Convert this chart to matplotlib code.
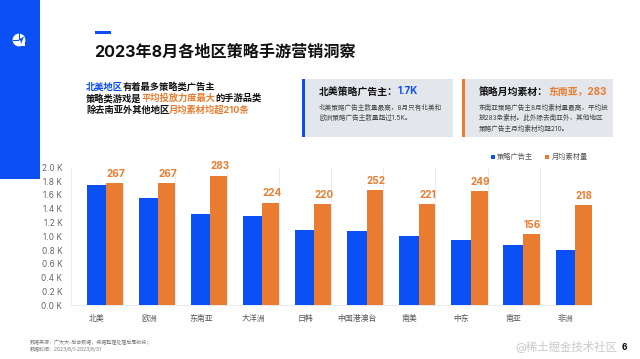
import numpy as np
import matplotlib
matplotlib.use('Agg')
import matplotlib.pyplot as plt
from matplotlib.patches import Rectangle, Circle, Polygon

plt.rcParams['font.family'] = ['Inter', 'Noto Sans CJK SC', 'DejaVu Sans']

regions = ['北美', '欧洲', '东南亚', '大洋洲', '日韩', '中国港澳台', '南美', '中东', '南亚', '非洲']
advertisers = [1.74, 1.55, 1.32, 1.30, 1.09, 1.07, 1.005, 0.94, 0.87, 0.807]
materials = [267, 267, 283, 224, 220, 252, 221, 249, 156, 218]
y_ticks = [0.0, 0.2, 0.4, 0.6, 0.8, 1.0, 1.2, 1.4, 1.6, 1.8, 2.0]

BLUE = '#0A50F5'
ORANGE = '#E97C30'
DARK = '#111111'
W, H = 640, 359

fig = plt.figure(figsize=(6.4, 3.59), dpi=100, facecolor='white')

# page layer in pixel coords, y going down
bg = fig.add_axes([0, 0, 1, 1])
bg.set_xlim(0, W)
bg.set_ylim(H, 0)
bg.axis('off')


def text_runs(x, y, runs, size, weight='bold'):
    # mixed colour line, each piece starts where the last one ended
    rend = fig.canvas.get_renderer()
    for s, color in runs:
        t = bg.text(x, y, s, fontsize=size, color=color, weight=weight, va='center', ha='left')
        x += t.get_window_extent(rend).width


bg.add_patch(Rectangle((0, 0), 40, 179, color=BLUE, lw=0))
bg.add_patch(Circle((19, 40), 6.4, color='white', lw=0))
bg.add_patch(Rectangle((19, 40), 6.4, 6.4, color='white', lw=0))
bg.add_patch(Polygon([[24, 36.5], [18, 40], [20.5, 40.5], [21, 44]], color=BLUE, lw=0))
bg.add_patch(Rectangle((12.5, 39.5), 6, 1, color=BLUE, lw=0))
bg.add_patch(Rectangle((18.5, 33), 1, 7, color=BLUE, lw=0))

bg.add_patch(Rectangle((95, 30.5), 16, 3.5, color=BLUE, lw=0))
text_runs(94.5, 52.5, [('2023年8月各地区策略手游营销洞察', DARK)], 11.6)

text_runs(86, 87, [('北美地区', BLUE), ('有着最多策略类广告主', DARK)], 6.7)
text_runs(86, 98.5, [('策略类游戏是', DARK), ('平均投放力度最大', ORANGE), ('的手游品类', DARK)], 6.7)
text_runs(86, 110, [('除去南亚外其他地区', DARK), ('月均素材均超210条', ORANGE)], 6.7)

# cards
for x0, x1, c in [(302, 453, BLUE), (462, 613, ORANGE)]:
    bg.add_patch(Rectangle((x0, 79), x1 - x0, 58, color='#E3E6EA', lw=0))
    bg.add_patch(Rectangle((x0, 79), 2.8, 58, color=c, lw=0))

text_runs(319, 91.5, [('北美策略广告主：', DARK), ('1.7K', BLUE)], 7.1)
text_runs(479, 91.5, [('策略月均素材：', DARK), ('东南亚，283', ORANGE)], 7.1)
for x, y, s in [(319, 107, '北美策略广告主数量最高，8月只有北美和'),
                (319, 117.5, '欧洲策略广告主数量超过1.5K。'),
                (479, 107, '东南亚策略广告主8月均素材量最高，平均投'),
                (479, 117.5, '放283条素材。此外除去南亚外，其他地区'),
                (479, 128, '策略广告主月均素材均超210。')]:
    bg.text(x, y, s, fontsize=4.75, color='#444444', va='center', ha='left')

# legend
bg.add_patch(Rectangle((490.5, 154.5), 4, 4.5, color=BLUE, lw=0))
bg.text(497, 156.6, '策略广告主', fontsize=5.2, color='#555555', va='center')
bg.add_patch(Rectangle((545, 154.5), 4, 4.5, color=ORANGE, lw=0))
bg.text(551.5, 156.6, '月均素材量', fontsize=5.2, color='#555555', va='center')

# footer
bg.text(30, 342.7, '数据来源：广大大-后台数据，根据整理处理后周版段；', fontsize=3.6, color='#777777', va='center')
bg.text(30, 349.7, '数据时间：2023/8/1-2023/8/31', fontsize=3.6, color='#777777', va='center')
bg.text(515, 347, '@稀土掘金技术社区', fontsize=8.2, color='#C9C9C9', va='center')
bg.text(624.5, 347.5, '6', fontsize=6, color='black', weight='bold', va='center', ha='center')

# chart
left, right, top, bottom = 70.7, 591.7, 167.3, 305.3
ax = fig.add_axes([left / W, 1 - bottom / H, (right - left) / W, (bottom - top) / H])
ax.patch.set_alpha(0)
pos = np.arange(len(regions))
ax.bar(pos + 0.307, advertisers, width=0.371, align='edge', color=BLUE, lw=0, zorder=3)
ax.set_xlim(0, len(regions))
ax.set_ylim(0, 2.0)
ax.set_yticks(y_ticks)
ax.set_yticklabels(['%.1f K' % v for v in y_ticks], fontsize=6.0, color='#666666')
ax.set_xticks(np.arange(len(regions) + 1))
ax.set_xticklabels([])
ax.set_xticks(pos + 0.5, regions, minor=True, fontsize=5.7, color='#555555')
ax.tick_params(axis='both', which='both', length=0)
ax.tick_params(axis='y', pad=6)
ax.tick_params(axis='x', which='minor', pad=6)
ax.grid(axis='x', which='major', color='#E8EAF0', lw=0.6, zorder=0)
for side in ['top', 'right', 'left']:
    ax.spines[side].set_visible(False)
ax.spines['bottom'].set_color('#E3E6EE')
ax.spines['bottom'].set_linewidth(0.6)

# materials use their own hidden scale
ax2 = ax.twinx()
ax2.patch.set_alpha(0)
ax2.bar(pos + 0.678, materials, width=0.322, align='edge', color=ORANGE, lw=0, zorder=3)
ax2.set_ylim(0, 301)
ax2.axis('off')
for i, v in enumerate(materials):
    ax2.annotate(str(v), (i + 0.839, v), xytext=(0.8, 3), textcoords='offset points',
                 ha='center', va='bottom', fontsize=7.2, weight='bold', color=ORANGE, clip_on=False)

fig.savefig('out.png', dpi=100)
